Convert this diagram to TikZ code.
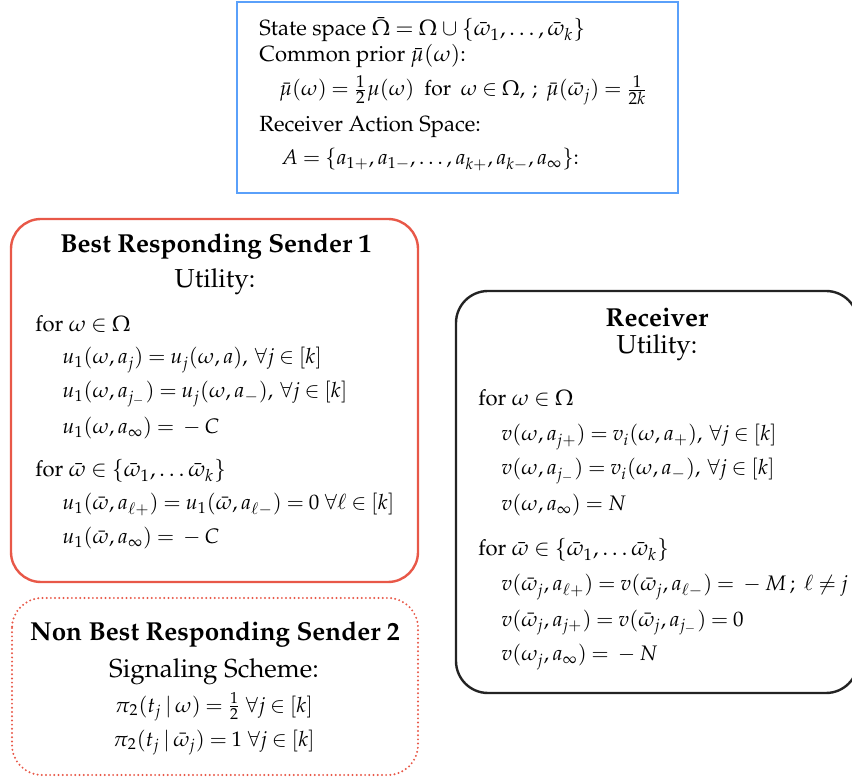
\documentclass[tikz,border=0pt]{standalone}
\usepackage[T1]{fontenc}
\usepackage{mathpazo}
\usepackage{amsmath}
\definecolor{boxblue}{RGB}{90,160,250}
\definecolor{boxred}{RGB}{232,88,72}
\definecolor{boxblack}{RGB}{35,35,35}
\newcommand{\bodyfont}{\fontsize{11pt}{13pt}\selectfont\thickmuskip=4mu plus 2mu\medmuskip=3.5mu plus 2mu}
\newcommand{\formfont}{\fontsize{10.5pt}{13pt}\selectfont\thickmuskip=4mu plus 2mu\medmuskip=3.5mu plus 2mu}
\newcommand{\headfont}{\fontsize{13pt}{15pt}\selectfont}
% slightly enlarged inline fraction
\newcommand{\bfr}[2]{\frac{\mbox{\fontsize{8.6pt}{9pt}\selectfont$#1$}}{\mbox{\fontsize{8.6pt}{9pt}\selectfont$#2$}}}
\tikzset{
  txt/.style={anchor=base west, inner sep=0pt, font=\bodyfont},
  mtxt/.style={anchor=base west, inner sep=0pt, font=\formfont},
  cmtxt/.style={anchor=base, inner sep=0pt, font=\formfont},
  htxt/.style={anchor=base, inner sep=0pt, font=\headfont},
  btitle/.style={anchor=base, inner sep=0pt, font=\headfont\bfseries},
  infobox/.style={draw=boxblue, line width=1.4pt},
  senderbox/.style={draw=boxred, line width=1.2pt, rounded corners=15pt},
  dotbox/.style={draw=boxred, line width=1.1pt, line cap=round, dash pattern=on 0pt off 2.1pt, rounded corners=15pt},
  recvbox/.style={draw=boxblack, line width=1.2pt, rounded corners=16pt}
}
\begin{document}
\begin{tikzpicture}[x=0.5pt,y=-0.5pt]
\useasboundingbox (0,0) rectangle (852,780);
\clip (0,0) rectangle (852,780);

% model description
\draw[infobox] (237,2) rectangle (678,193);
\node[txt] (ss) at (259,36) {State space $\bar{\Omega}=\Omega\cup\{\bar\omega_1,\dots,\bar\omega_k\}$};
\node[txt] (cp) at (259,62) {Common prior $\bar\mu(\omega)$:};
\node[mtxt] (cpd) at (279,96) {$\bar\mu(\omega)=\bfr{1}{2}\mu(\omega)\;\text{ for }\;\omega\in\Omega,\,;\ \bar\mu(\bar\omega_j)=\bfr{1}{2k}$};
\node[txt] (as) at (259,132) {Receiver Action Space:};
\node[mtxt] (asd) at (281,165) {$A=\{a_{1+},a_{1-},\dots,a_{k+},a_{k-},a_\infty\}$:};

% best responding sender
\draw[senderbox] (11,219) rectangle (418,582);
\node[btitle] (s1t) at (216,253) {Best Responding Sender 1};
\node[htxt] (s1u) at (215,288) {Utility:};
\node[txt] (s1f1) at (35,332) {for $\omega\in\Omega$};
\node[mtxt] (s1a) at (62,364) {$u_1(\omega,a_j)=u_j(\omega,a),\,\forall j\in[k]$};
\node[mtxt] (s1b) at (62,398) {$u_1(\omega,a_{j_-})=u_j(\omega,a_-),\,\forall j\in[k]$};
\node[mtxt] (s1c) at (62,434) {$u_1(\omega,a_\infty)={}-C$};
\node[txt] (s1f2) at (35,477) {for $\bar\omega\in\{\bar\omega_1,\dots\bar\omega_k\}$};
\node[mtxt] (s1d) at (62,510) {$u_1(\bar\omega,a_{\ell+})=u_1(\bar\omega,a_{\ell-})=0\ \forall\ell\in[k]$};
\node[mtxt] (s1e) at (62,544) {$u_1(\bar\omega,a_\infty)={}-C$};

% non best responding sender
\draw[dotbox] (12,598) rectangle (418,775);
\node[btitle] (s2t) at (215,640) {Non Best Responding Sender 2};
\node[htxt] (s2s) at (214,677) {Signaling Scheme:};
\node[cmtxt] (s2a) at (214,712) {$\pi_2(t_j\,|\,\omega)=\frac{1}{2}\ \forall j\in[k]$};
\node[cmtxt] (s2b) at (214,746) {$\pi_2(t_j\,|\,\bar\omega_j)=1\ \forall j\in[k]$};

% receiver
\draw[recvbox] (456,291) rectangle (858,693);
\node[btitle] (rt) at (657,327) {Receiver};
\node[htxt] (ru) at (657,354) {Utility:};
\node[txt] (rf1) at (478,406) {for $\omega\in\Omega$};
\node[mtxt] (ra) at (501,441) {$v(\omega,a_{j+})=v_i(\omega,a_+),\,\forall j\in[k]$};
\node[mtxt] (rb) at (501,475) {$v(\omega,a_{j_-})=v_i(\omega,a_-),\,\forall j\in[k]$};
\node[mtxt] (rc) at (501,511) {$v(\omega,a_\infty)=N$};
\node[txt] (rf2) at (478,556) {for $\bar\omega\in\{\bar\omega_1,\dots\bar\omega_k\}$};
\node[mtxt] (rd) at (501,591) {$v(\bar\omega_j,a_{\ell+})=v(\bar\omega_j,a_{\ell-})={}-M\,;\ \ell\neq j$};
\node[mtxt] (re) at (501,626) {$v(\bar\omega_j,a_{j+})=v(\bar\omega_j,a_{j_-})=0$};
\node[mtxt] (rg) at (501,661) {$v(\omega_j,a_\infty)={}-N$};
\end{tikzpicture}
\end{document}
